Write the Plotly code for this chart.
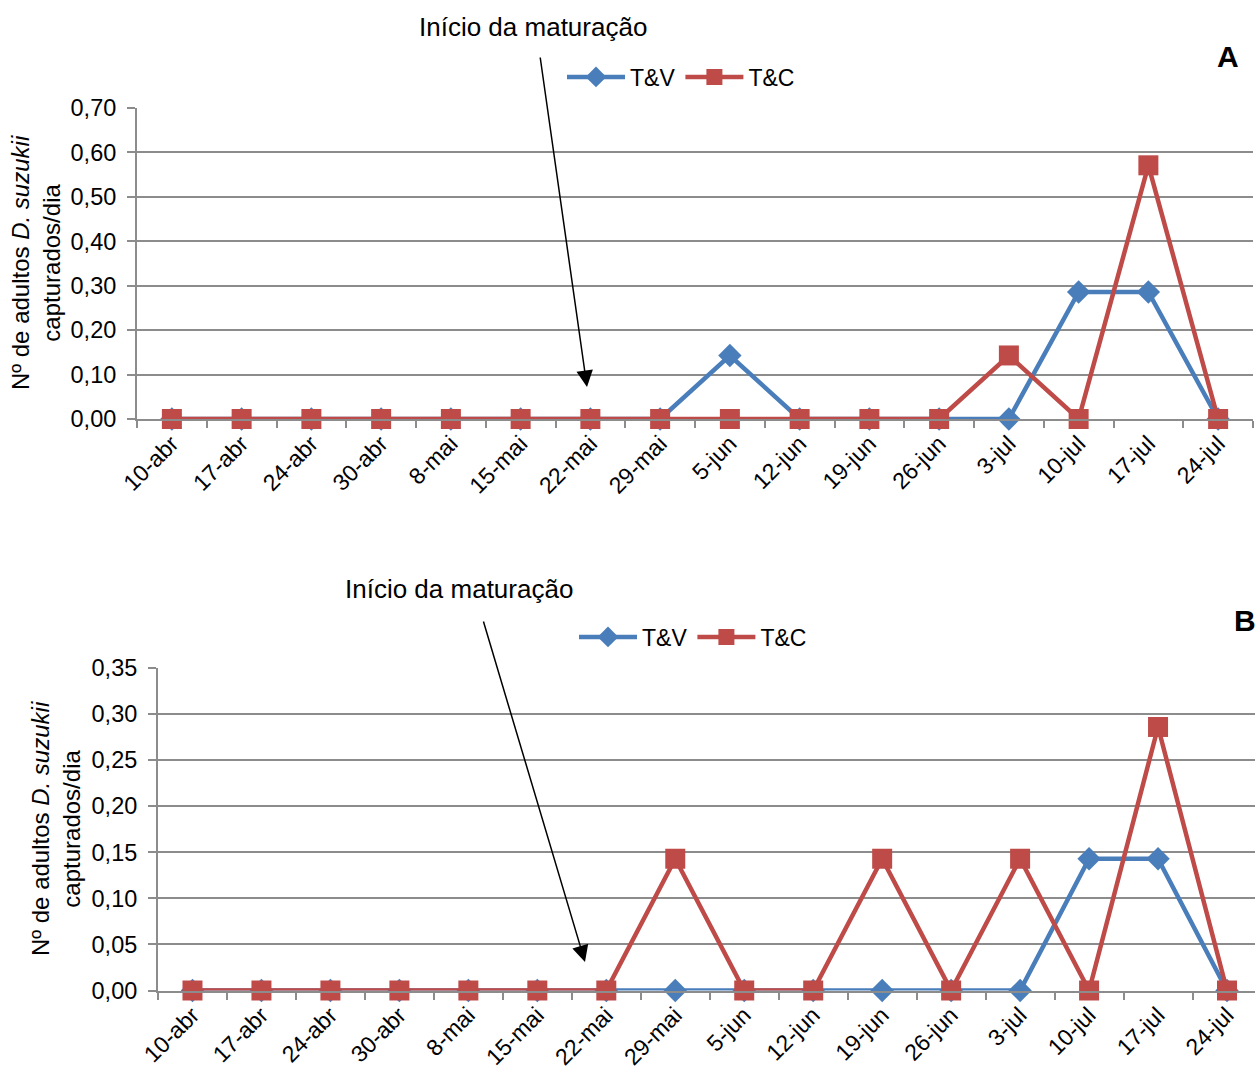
import plotly.graph_objects as go

# Weekly sampling dates (categorical x axis)
datas = ["10-abr", "17-abr", "24-abr", "30-abr", "8-mai", "15-mai", "22-mai", "29-mai",
         "5-jun", "12-jun", "19-jun", "26-jun", "3-jul", "10-jul", "17-jul", "24-jul"]

# Panel A: adults captured per day
a_tv = [0, 0, 0, 0, 0, 0, 0, 0, 0.143, 0, 0, 0, 0, 0.286, 0.286, 0]
a_tc = [0, 0, 0, 0, 0, 0, 0, 0, 0, 0, 0, 0, 0.143, 0, 0.571, 0]

# Panel B: adults captured per day
b_tv = [0, 0, 0, 0, 0, 0, 0, 0, 0, 0, 0, 0, 0, 0.143, 0.143, 0]
b_tc = [0, 0, 0, 0, 0, 0, 0, 0.143, 0, 0, 0.143, 0, 0.143, 0, 0.286, 0]

W, H = 1255, 1068
BLUE = "#4a7ebb"
RED = "#be4b48"
GRID = "#8c8c8c"
FONT = "Liberation Sans, Arial, sans-serif"


def px(x):
    return x / W


def py(y):
    return 1 - y / H


fig = go.Figure()


def add_series(xaxis, yaxis, legend, tv, tc):
    fig.add_trace(go.Scatter(
        x=datas, y=tv, name="T&V", mode="lines+markers",
        line=dict(color=BLUE, width=4.5),
        marker=dict(symbol="diamond", size=18, color=BLUE),
        xaxis=xaxis, yaxis=yaxis, legend=legend, cliponaxis=False))
    fig.add_trace(go.Scatter(
        x=datas, y=tc, name="T&C", mode="lines+markers",
        line=dict(color=RED, width=4.5),
        marker=dict(symbol="square", size=20, color=RED),
        xaxis=xaxis, yaxis=yaxis, legend=legend, cliponaxis=False))


add_series("x", "y", "legend", a_tv, a_tc)
add_series("x2", "y2", "legend2", b_tv, b_tc)

xcommon = dict(
    type="category", categoryorder="array", categoryarray=datas,
    tickson="boundaries", ticks="outside", ticklen=7, tickwidth=1.5, tickcolor=GRID,
    showline=True, linecolor=GRID, linewidth=2, showgrid=False, zeroline=False,
    automargin=False,
    tickangle=-45, tickfont=dict(size=23, color="black", family=FONT),
)
ycommon = dict(
    ticks="outside", ticklen=8, tickwidth=2, tickcolor=GRID,
    showline=True, linecolor=GRID, linewidth=2,
    showgrid=True, gridcolor=GRID, gridwidth=2, zeroline=False,
    automargin=False, ticklabelstandoff=6,
    tickformat=".2f", tickfont=dict(size=23.5, color="black", family=FONT),
)

legend_style = dict(orientation="h", xanchor="left", yanchor="middle",
                    font=dict(size=23), bgcolor="rgba(0,0,0,0)", itemwidth=58)

fig.update_layout(
    width=W, height=H,
    margin=dict(l=0, r=0, t=0, b=0),
    paper_bgcolor="white", plot_bgcolor="white",
    separators=", ",
    font=dict(family=FONT, color="black"),
    xaxis=dict(xcommon, domain=[px(137), px(1253)], range=[-0.5, 15.5], anchor="y"),
    yaxis=dict(ycommon, domain=[py(419), py(108)], range=[0, 0.70], dtick=0.10, anchor="x"),
    xaxis2=dict(xcommon, domain=[px(158), 1], range=[-0.5, 15.5 - 6.5 / 69], anchor="y2"),
    yaxis2=dict(ycommon, domain=[py(990.5), py(668)], range=[0, 0.35], dtick=0.05, anchor="x2"),
    legend=dict(legend_style, x=px(562), y=py(77)),
    legend2=dict(legend_style, x=px(574), y=py(637)),
)

ytitle = "Nº de adultos <i>D. suzukii</i><br>capturados/dia"
annotations = [
    # y-axis titles
    dict(text=ytitle, x=px(36), y=py(263), textangle=-90, font=dict(size=24)),
    dict(text=ytitle, x=px(56), y=py(829), textangle=-90, font=dict(size=24)),
    # panel letters
    dict(text="<b>A</b>", x=px(1228), y=py(57), font=dict(size=30)),
    dict(text="<b>B</b>", x=px(1232), y=py(620), xanchor="left", font=dict(size=30)),
    # ripening-onset labels
    dict(text="Início da maturação", x=px(533), y=py(27), font=dict(size=26)),
    dict(text="Início da maturação", x=px(459), y=py(589), font=dict(size=26)),
]
for a in annotations:
    a.update(xref="paper", yref="paper", showarrow=False,
             xanchor=a.get("xanchor", "center"), yanchor="middle")

# arrows pointing to the ripening onset
arrows = [
    dict(x=px(587), y=py(387), ax=540 - 587, ay=56 - 387),
    dict(x=px(585), y=py(962), ax=483 - 585, ay=620 - 962),
]
for a in arrows:
    a.update(xref="paper", yref="paper", axref="pixel", ayref="pixel", text="",
             showarrow=True, arrowhead=2, arrowsize=2.2, arrowwidth=1.5, arrowcolor="black")

fig.update_layout(annotations=annotations + arrows)

fig.write_html("out.html")
